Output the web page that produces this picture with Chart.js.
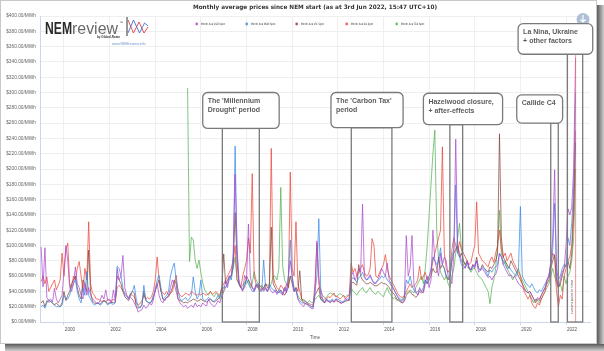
<!DOCTYPE html>
<html>
<head>
<meta charset="utf-8">
<script src="https://cdn.jsdelivr.net/npm/chart.js@4.4.1/dist/chart.umd.min.js"></script>
<style>
  html, body { margin: 0; padding: 0; background: #fff; }
  canvas { display: block; }
</style>
</head>
<body>
<canvas id="chart" width="604" height="351"></canvas>
<script>
// ─── Data: monthly average spot price ($/MWh), first month Dec 1998 ─────────
// each point sits at the end of its month, so Dec 1998 lands on 1999.0
const FIRST_POINT = 1999.0;
const TAS_OFFSET = 77;           // Tasmania joins the NEM in 2005

const QLD = [
  98, 46, 97, 32, 28, 30, 26, 44, 30, 25, 30, 35,
  65, 100, 80, 45, 40, 50, 72, 50, 45, 35, 30, 50,
  35, 45, 35, 30, 28, 25, 24, 28, 35, 30, 42, 28,
  30, 25, 42, 28, 70, 55, 60, 87, 45, 35, 30, 32,
  30, 25, 20, 13, 15, 16, 22, 18, 20, 25, 22, 28,
  45, 50, 35, 28, 25, 30, 32, 35, 45, 55, 50, 40,
  30, 25, 22, 20, 22, 18, 20, 22, 19, 25, 20, 22,
  20, 25, 22, 21, 30, 25, 22, 20, 23, 28, 25, 35,
  40, 55, 45, 60, 60, 90, 193, 100, 55, 45, 40, 61,
  55, 128, 60, 45, 40, 50, 48, 42, 45, 40, 45, 40,
  45, 40, 38, 42, 36, 40, 38, 35, 45, 38, 60, 80,
  60, 40, 45, 30, 25, 22, 20, 25, 22, 20, 18, 17,
  40, 106, 60, 35, 28, 25, 30, 27, 25, 28, 26, 30,
  28, 25, 24, 27, 30, 28, 30, 60, 65, 55, 60, 70,
  65, 154, 60, 55, 58, 62, 55, 50, 52, 55, 60, 70,
  65, 60, 77, 55, 50, 45, 40, 35, 30, 28, 25, 30,
  113, 60, 70, 113, 50, 40, 35, 45, 40, 38, 50, 60,
  45, 55, 120, 80, 70, 60, 90, 75, 85, 80, 60, 55,
  50, 90, 239, 100, 90, 80, 75, 70, 80, 72, 68, 75,
  70, 80, 65, 68, 70, 66, 62, 58, 60, 55, 60, 62,
  70, 90, 85, 75, 70, 65, 60, 62, 58, 60, 55, 50,
  48, 45, 42, 40, 38, 40, 35, 30, 28, 32, 30, 35,
  40, 45, 55, 60, 80, 110, 199, 60, 45, 55, 65, 70,
  100, 148, 140, 150, 200, 345,
];
const NSW = [
  20, 22, 18, 25, 29, 27, 25, 22, 20, 20, 20, 22,
  35, 30, 30, 35, 45, 50, 55, 40, 30, 25, 45, 35,
  66, 35, 30, 25, 22, 24, 25, 22, 24, 28, 26, 22,
  25, 24, 23, 25, 73, 70, 60, 45, 35, 33, 30, 38,
  40, 48, 30, 20, 18, 22, 48, 30, 26, 25, 27, 35,
  40, 55, 61, 45, 30, 32, 35, 40, 60, 70, 77, 55,
  40, 30, 28, 30, 32, 28, 30, 35, 59, 40, 30, 35,
  55, 30, 28, 29, 32, 30, 28, 27, 30, 35, 32, 40,
  46, 45, 50, 60, 55, 75, 230, 90, 50, 45, 42, 48,
  55, 50, 45, 40, 40, 45, 50, 42, 40, 81, 45, 40,
  50, 45, 42, 40, 38, 42, 40, 36, 45, 40, 60, 107,
  55, 40, 42, 30, 28, 25, 25, 27, 24, 22, 20, 20,
  40, 60, 135, 45, 30, 26, 30, 28, 27, 30, 28, 30,
  30, 28, 27, 26, 28, 30, 30, 55, 58, 55, 52, 58,
  60, 65, 58, 55, 56, 60, 55, 52, 50, 54, 56, 60,
  58, 60, 55, 52, 48, 45, 40, 35, 32, 30, 28, 32,
  55, 50, 60, 48, 42, 38, 40, 42, 40, 45, 55, 50,
  60, 70, 85, 80, 75, 80, 97, 75, 70, 60, 58, 55,
  85, 95, 179, 90, 85, 75, 70, 72, 78, 70, 68, 72,
  75, 80, 70, 68, 72, 70, 65, 60, 68, 65, 70, 72,
  75, 90, 85, 80, 75, 70, 72, 68, 65, 62, 60, 70,
  151, 60, 55, 50, 48, 45, 50, 45, 40, 38, 42, 40,
  45, 50, 55, 60, 75, 95, 155, 70, 55, 60, 70, 75,
  72, 110, 100, 130, 170, 300,
];
const VIC = [
  25, 28, 20, 28, 26, 27, 25, 22, 25, 22, 20, 25,
  40, 28, 35, 40, 50, 55, 60, 45, 35, 30, 55, 50,
  40, 94, 40, 27, 25, 24, 25, 23, 26, 28, 27, 24,
  25, 26, 25, 26, 60, 55, 50, 40, 33, 30, 28, 35,
  40, 38, 20, 18, 20, 22, 40, 28, 26, 25, 26, 32,
  40, 48, 55, 40, 30, 28, 32, 33, 38, 45, 55, 50,
  30, 28, 27, 25, 26, 25, 27, 28, 30, 29, 27, 28,
  30, 28, 27, 26, 28, 30, 27, 26, 28, 30, 33, 45,
  89, 50, 55, 60, 60, 75, 143, 80, 50, 45, 42, 45,
  60, 55, 50, 45, 42, 48, 45, 40, 42, 45, 50, 45,
  45, 124, 50, 45, 40, 38, 42, 38, 35, 40, 45, 60,
  50, 40, 45, 40, 67, 30, 25, 24, 23, 22, 20, 20,
  35, 40, 45, 30, 27, 25, 28, 27, 26, 28, 26, 28,
  27, 26, 25, 26, 27, 28, 28, 50, 52, 50, 48, 75,
  60, 55, 52, 50, 50, 52, 50, 48, 47, 48, 50, 52,
  50, 50, 48, 45, 40, 38, 35, 30, 28, 26, 25, 27,
  35, 38, 40, 36, 35, 32, 35, 40, 38, 40, 55, 50,
  55, 60, 70, 65, 65, 85, 70, 75, 70, 60, 55, 60,
  80, 90, 95, 100, 85, 90, 80, 75, 80, 70, 68, 75,
  72, 85, 70, 68, 75, 70, 68, 65, 72, 70, 75, 80,
  90, 246, 110, 85, 80, 75, 70, 80, 75, 70, 65, 60,
  55, 50, 45, 40, 38, 40, 35, 30, 25, 30, 28, 35,
  40, 45, 50, 55, 70, 80, 88, 55, 45, 50, 60, 70,
  75, 80, 70, 90, 140, 235,
];
const SA = [
  53, 60, 50, 59, 40, 45, 50, 55, 42, 48, 55, 90,
  60, 95, 103, 50, 45, 60, 55, 70, 79, 60, 40, 70,
  55, 131, 50, 38, 35, 30, 30, 28, 27, 28, 26, 30,
  28, 27, 30, 28, 45, 48, 45, 40, 38, 35, 32, 36,
  35, 33, 25, 22, 24, 28, 35, 30, 32, 30, 33, 40,
  55, 85, 55, 40, 38, 36, 40, 35, 37, 40, 50, 61,
  40, 35, 33, 35, 38, 36, 35, 40, 38, 36, 35, 37,
  35, 38, 36, 35, 37, 40, 36, 38, 40, 37, 35, 45,
  50, 55, 60, 65, 70, 80, 100, 55, 50, 45, 60, 70,
  80, 110, 90, 194, 60, 50, 45, 48, 45, 42, 50, 48,
  48, 227, 60, 50, 45, 42, 48, 45, 40, 50, 45, 196,
  70, 60, 131, 50, 40, 30, 28, 27, 25, 24, 23, 22,
  50, 103, 50, 40, 35, 32, 30, 33, 32, 35, 38, 33,
  33, 30, 32, 35, 30, 33, 35, 77, 65, 70, 60, 65,
  70, 75, 65, 60, 62, 70, 109, 100, 60, 58, 65, 70,
  75, 88, 70, 60, 55, 50, 45, 40, 35, 33, 32, 35,
  40, 45, 50, 45, 48, 50, 55, 73, 55, 60, 65, 55,
  60, 65, 80, 90, 100, 110, 120, 229, 90, 70, 65, 70,
  95, 110, 100, 90, 105, 95, 90, 85, 80, 75, 78, 90,
  100, 157, 90, 85, 80, 78, 75, 72, 80, 85, 78, 90,
  100, 120, 95, 85, 90, 80, 85, 90, 80, 75, 70, 65,
  60, 50, 40, 35, 30, 35, 25, 20, 18, 25, 22, 30,
  35, 40, 55, 60, 75, 90, 85, 40, 20, 35, 30, 60,
  70, 80, 85, 100, 160, 250,
];
const TAS = [
  306, 79, 111, 107, 81, 70, 81,
  64, 51, 42, 38, 35, 40, 36, 33, 38, 35, 30, 32,
  40, 45, 50, 55, 60, 70, 85, 55, 50, 45, 48, 52,
  50, 55, 45, 50, 66, 55, 51, 45, 48, 44, 42, 40,
  45, 50, 60, 60, 55, 70, 176, 73, 55, 50, 48, 60,
  59, 45, 40, 35, 30, 28, 30, 27, 25, 28, 26, 25,
  30, 32, 35, 30, 28, 30, 32, 36, 38, 37, 35, 33,
  35, 37, 36, 34, 33, 35, 35, 45, 40, 38, 35, 40,
  42, 45, 40, 38, 42, 45, 40, 38, 36, 40, 38, 35,
  33, 40, 45, 38, 35, 30, 32, 28, 30, 27, 30, 35,
  38, 40, 42, 40, 38, 45, 50, 55, 60, 50, 70, 100,
  140, 180, 220, 251, 120, 80, 65, 60, 55, 60, 50, 45,
  60, 70, 90, 110, 129, 95, 80, 75, 72, 70, 65, 70,
  70, 65, 60, 58, 55, 50, 45, 40, 24, 45, 55, 70,
  100, 146, 90, 75, 80, 70, 65, 60, 55, 60, 65, 70,
  60, 55, 50, 45, 40, 35, 30, 25, 30, 28, 25, 30,
  35, 40, 45, 50, 60, 70, 60, 50, 45, 50, 40, 60,
  50, 60, 65, 80, 110, 200,
];

const SERIES = [
  { label: 'Month Ave QLD Spot', values: QLD, offset: 0, color: 'rgba(170,70,205,0.8)' },
  { label: 'Month Ave NSW Spot', values: NSW, offset: 0, color: 'rgba(50,135,230,0.8)' },
  { label: 'Month Ave VIC Spot', values: VIC, offset: 0, color: 'rgba(130,65,50,0.8)' },
  { label: 'Month Ave SA Spot',  values: SA,  offset: 0, color: 'rgba(235,65,55,0.8)' },
  { label: 'Month Ave TAS Spot', values: TAS, offset: TAS_OFFSET, color: 'rgba(80,175,80,0.8)' },
];

const YEAR_TICKS = [2000, 2002, 2004, 2006, 2008, 2010, 2012, 2014, 2016, 2018, 2020, 2022];

// ─── Annotations (in data units: years / $ per MWh) ──────────────────────────
const PERIODS = [
  { from: 2006.94, to: 2008.56, top: 253 },
  { from: 2012.59, to: 2014.37, top: 254 },
  { from: 2016.91, to: 2017.47, top: 258 },
  { from: 2021.33, to: 2021.66, top: 260 },
  { from: 2022.06, to: 2022.73, top: 350 },
];
const NOTES = [
  { from: 2006.08, to: 2009.43, top: 300, bottom: 253, lines: ["The 'Millennium", "Drought' period"] },
  { from: 2011.70, to: 2014.86, top: 300, bottom: 254, lines: ["The 'Carbon Tax'", 'period'] },
  { from: 2015.75, to: 2019.22, top: 299, bottom: 258, lines: ['Hazelwood closure,', '+ after-effects'] },
  { from: 2019.84, to: 2021.85, top: 297, bottom: 260, lines: ['Callide C4'] },
  { from: 2019.90, to: 2023.17, top: 390, bottom: 350, lines: ['La Nina, Ukraine', '+ other factors'] },
];
const NOW_MARK = 2022.42;

const TITLE = 'Monthly average prices since NEM start (as at 3rd Jun 2022, 15:47 UTC+10)';

// ─── helpers ────────────────────────────────────────────────────────────────
function rrect(ctx, x, y, w, h, r) {
  ctx.beginPath();
  ctx.moveTo(x + r, y);
  ctx.arcTo(x + w, y, x + w, y + h, r);
  ctx.arcTo(x + w, y + h, x, y + h, r);
  ctx.arcTo(x, y + h, x, y, r);
  ctx.arcTo(x, y, x + w, y, r);
  ctx.closePath();
}
function fitText(ctx, s, x, y, w) {
  const m = ctx.measureText(s).width;
  ctx.save();
  ctx.translate(x, y);
  ctx.scale(w / m, 1);
  ctx.fillText(s, 0, 0);
  ctx.restore();
}

const decor = {
  id: 'decor',
  beforeDraw(chart) {
    const ctx = chart.ctx;
    ctx.save();
    ctx.fillStyle = '#fff';
    ctx.fillRect(0, 0, chart.width, chart.height);
    ctx.restore();
  },
  afterDatasetsDraw(chart) {
    const { ctx, scales: { x, y } } = chart;
    ctx.save();
    // "current point in time" marker
    ctx.strokeStyle = 'rgba(235,90,90,0.8)';
    ctx.lineWidth = 0.8;
    ctx.beginPath();
    ctx.moveTo(x.getPixelForValue(NOW_MARK), y.getPixelForValue(PERIODS[4].top));
    ctx.lineTo(x.getPixelForValue(NOW_MARK), y.getPixelForValue(0));
    ctx.stroke();

    ctx.strokeStyle = '#7a7a7a';
    ctx.lineWidth = 1.3;
    PERIODS.forEach(p => {
      const x0 = x.getPixelForValue(p.from), x1 = x.getPixelForValue(p.to);
      const y0 = y.getPixelForValue(p.top), y1 = y.getPixelForValue(0);
      ctx.strokeRect(x0, y0, x1 - x0, y1 - y0);
    });

    // download icon sits under the last note box
    ctx.fillStyle = '#aebfd6';
    ctx.beginPath();
    ctx.arc(583, 19.5, 6.5, 0, Math.PI * 2);
    ctx.fill();
    ctx.strokeStyle = '#fff';
    ctx.lineWidth = 1.2;
    ctx.beginPath();
    ctx.moveTo(583, 15); ctx.lineTo(583, 22);
    ctx.moveTo(580.5, 19.5); ctx.lineTo(583, 22); ctx.lineTo(585.5, 19.5);
    ctx.stroke();

    NOTES.forEach(n => {
      const x0 = x.getPixelForValue(n.from), x1 = x.getPixelForValue(n.to);
      const y0 = y.getPixelForValue(n.top), y1 = y.getPixelForValue(n.bottom);
      rrect(ctx, x0, y0, x1 - x0, y1 - y0, 5);
      ctx.fillStyle = '#fff';
      ctx.fill();
      ctx.strokeStyle = '#7a7a7a';
      ctx.lineWidth = 1.3;
      ctx.stroke();
      ctx.fillStyle = '#5c5c5c';
      ctx.font = 'bold 7px "Liberation Sans", Arial, sans-serif';
      ctx.textBaseline = 'middle';
      ctx.textAlign = 'left';
      n.lines.forEach((s, k) => ctx.fillText(s, x0 + 5, y0 + 8.5 + k * 9));
    });

    ctx.save();
    ctx.translate(572.5, 297);
    ctx.rotate(-Math.PI / 2);
    ctx.fillStyle = '#444';
    ctx.font = '3.3px "DejaVu Sans", sans-serif';
    ctx.textAlign = 'center';
    ctx.textBaseline = 'middle';
    ctx.fillText('current point in time', 0, 0);
    ctx.restore();
    ctx.restore();
  },
  afterDraw(chart) {
    const ctx = chart.ctx;
    ctx.save();
    // title
    ctx.fillStyle = '#333';
    ctx.font = 'bold 6px "DejaVu Sans", sans-serif';
    ctx.textBaseline = 'middle';
    ctx.textAlign = 'left';
    fitText(ctx, TITLE, 193, 7, 244);

    // legend
    SERIES.forEach((s, k) => {
      const lx = 196.7 + k * 50;
      ctx.fillStyle = s.color;
      ctx.beginPath();
      ctx.arc(lx, 24, 1.4, 0, Math.PI * 2);
      ctx.fill();
      ctx.fillStyle = '#333';
      ctx.font = '3px "DejaVu Sans", sans-serif';
      const w = ctx.measureText(s.label).width * 0.78;
      fitText(ctx, s.label, lx + 4, 24, w);
    });

    // NEMreview logo
    ctx.textBaseline = 'alphabetic';
    ctx.font = '600 17px "Liberation Sans", Arial, sans-serif';
    ctx.fillStyle = '#2a2a2a';
    fitText(ctx, 'NEM', 45, 34, 27);
    ctx.font = '17px "Liberation Sans", Arial, sans-serif';
    ctx.fillStyle = '#6a6a6a';
    fitText(ctx, 'review', 72, 34, 46);
    ctx.font = '4px "Liberation Sans", sans-serif';
    ctx.fillStyle = '#555';
    ctx.fillText('™', 119, 24);
    ctx.font = 'bold 3px "Liberation Sans", sans-serif';
    ctx.fillStyle = '#333';
    ctx.fillText('by Global-Roam', 97, 38);
    ctx.font = '3.6px "Liberation Sans", sans-serif';
    ctx.fillStyle = '#6f8fd0';
    ctx.fillText('www.NEMreview.info', 112, 44.5);
    ctx.strokeStyle = '#333';
    ctx.lineWidth = 1;
    ctx.beginPath(); ctx.moveTo(127, 17); ctx.lineTo(127, 36); ctx.stroke();
    ctx.lineWidth = 0.9;
    ctx.strokeStyle = '#e2403c';
    ctx.beginPath();
    ctx.moveTo(128, 20); ctx.lineTo(133.5, 33); ctx.lineTo(139, 22); ctx.lineTo(144, 33); ctx.lineTo(148, 27);
    ctx.stroke();
    ctx.strokeStyle = '#3f6fd0';
    ctx.beginPath();
    ctx.moveTo(128, 33); ctx.lineTo(133.5, 20); ctx.lineTo(139.5, 33); ctx.lineTo(144.5, 23); ctx.lineTo(148, 26);
    ctx.stroke();

    // screenshot frame and shadow
    ctx.strokeStyle = '#c8c8c8';
    ctx.lineWidth = 1;
    ctx.strokeRect(0.5, 0.5, 596, 343);
    let g = ctx.createLinearGradient(597, 0, 604, 0);
    g.addColorStop(0, '#5a5a5a'); g.addColorStop(1, '#d0d0d0');
    ctx.fillStyle = g;
    ctx.fillRect(597, 5, 7, 346);
    g = ctx.createLinearGradient(0, 344, 0, 351);
    g.addColorStop(0, '#5a5a5a'); g.addColorStop(1, '#d0d0d0');
    ctx.fillStyle = g;
    ctx.fillRect(5, 344, 599, 7);
    ctx.restore();
  },
};

// ─── Chart ──────────────────────────────────────────────────────────────────
const datasets = SERIES.map(s => ({
  label: s.label,
  data: s.values.map((v, i) => ({ x: FIRST_POINT + (s.offset + i) / 12, y: v })),
  borderColor: s.color,
  backgroundColor: s.color,
  borderWidth: 0.9,
  pointRadius: 0,
  tension: 0,
  fill: false,
}));

new Chart(document.getElementById('chart').getContext('2d'), {
  type: 'line',
  data: { datasets },
  plugins: [decor],
  options: {
    responsive: false, animation: false, devicePixelRatio: 1,
    layout: { padding: { top: 16, right: 14, left: 0, bottom: 0 } },
    plugins: { legend: { display: false }, title: { display: false }, tooltip: { enabled: false } },
    scales: {
      x: {
        type: 'linear', min: 1998.95, max: 2023.05,
        afterBuildTicks: s => { s.ticks = YEAR_TICKS.map(v => ({ value: v })); },
        afterFit: s => { s.height = 29; },
        ticks: {
          callback: v => String(v), labelOffset: 6, maxRotation: 0, autoSkip: false,
          color: '#555', padding: 2, font: { family: '"Liberation Sans", Arial, sans-serif', size: 4.6 },
        },
        grid: { color: '#efefef', tickLength: 3, tickColor: '#ccd6eb' },
        border: { color: '#ccd6eb' },
        title: {
          display: true, text: 'Time', color: '#555',
          font: { family: '"Liberation Sans", Arial, sans-serif', size: 4.6 },
          padding: { top: 0, bottom: 10.5 },
        },
      },
      y: {
        min: 0, max: 400,
        afterFit: s => { s.width = 40; },
        ticks: {
          stepSize: 20, color: '#666', padding: 4,
          callback: v => `$${v.toFixed(2)}/MWh`,
          font: { family: '"Liberation Sans", Arial, sans-serif', size: 4.8 },
        },
        grid: { color: '#efefef', drawTicks: false },
        border: { color: '#ccd6eb' },
      },
    },
  },
});
</script>
</body>
</html>
